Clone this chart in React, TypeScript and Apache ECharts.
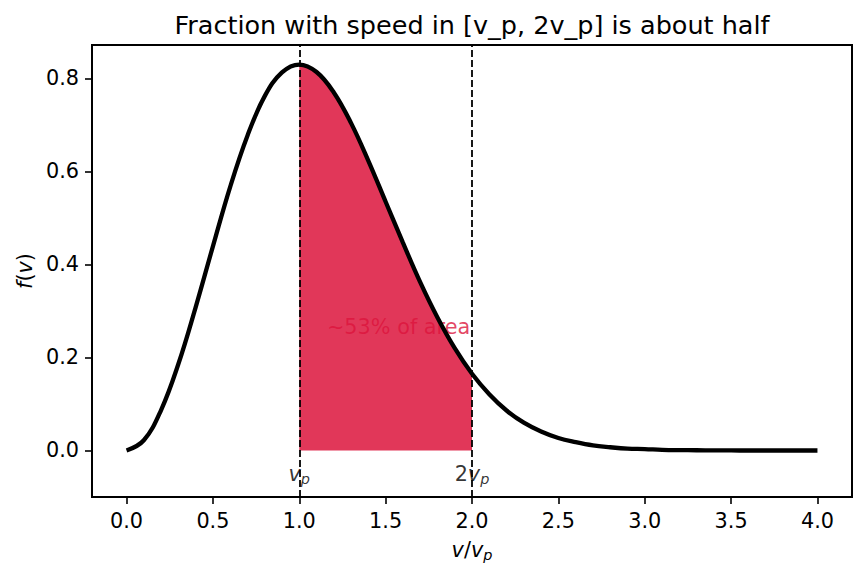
import React, { useEffect, useRef } from "react";
import * as echarts from "echarts";

const xs: number[] = [
  0.0, 0.1, 0.2, 0.3, 0.4, 0.5, 0.6, 0.7, 0.8, 0.9, 1.0, 1.1, 1.2, 1.3, 1.4,
  1.5, 1.6, 1.7, 1.8, 1.9, 2.0, 2.1, 2.2, 2.3, 2.4, 2.5, 2.6, 2.7, 2.8, 2.9,
  3.0, 3.1, 3.2, 3.3, 3.4, 3.5, 3.6, 3.7, 3.8, 3.9, 4.0,
];
const fv: number[] = [
  0.0, 0.022, 0.087, 0.186, 0.308, 0.439, 0.567, 0.677, 0.762, 0.813, 0.83,
  0.814, 0.77, 0.704, 0.623, 0.535, 0.447, 0.362, 0.286, 0.22, 0.165, 0.121,
  0.086, 0.06, 0.041, 0.027, 0.018, 0.011, 0.007, 0.004, 0.003, 0.0015,
  0.0008, 0.0005, 0.0002, 0.0001, 0.0, 0.0, 0.0, 0.0, 0.0,
];
const xTicks: number[] = [0, 0.5, 1, 1.5, 2, 2.5, 3, 3.5, 4];
const yTicks: number[] = [0, 0.2, 0.4, 0.6, 0.8];
const markerXs: number[] = [1, 2];
const shadeFrom = 1;
const shadeTo = 2;
const titleText = "Fraction with speed in [v_p, 2v_p] is about half";
const areaNote = "~53% of area";
const noteAt: number[] = [1.16, 0.265];
const markerLabelY = -0.05;

const FONT = "DejaVu Sans";
const CRIMSON = "#DC143C";
const FS = 20.8;

export default function App() {
  const ref = useRef<HTMLDivElement>(null);
  useEffect(() => {
    document.body.style.margin = "0";
    const chart = echarts.init(ref.current!, null, { renderer: "svg" });
    const curve = xs.map((x, i) => [x, fv[i]]);
    const shade = xs
      .map((x, i) => [x, fv[i]])
      .filter((p) => p[0] >= shadeFrom - 1e-9 && p[0] <= shadeTo + 1e-9);
    const rich = {
      i: { fontFamily: FONT, fontStyle: "italic", fontSize: FS, color: "#000" },
      n: { fontFamily: FONT, fontSize: FS, color: "#000" },
      s: {
        fontFamily: FONT,
        fontStyle: "italic",
        fontSize: 14.5,
        color: "#000",
        padding: [10, 0, 0, 0],
      },
    };
    chart.setOption({
      animation: false,
      backgroundColor: "#fff",
      grid: {
        left: 92,
        top: 45,
        width: 760,
        height: 452,
        show: true,
        borderColor: "#000",
        borderWidth: 2,
        backgroundColor: "transparent",
      },
      xAxis: {
        type: "value",
        min: -0.2,
        max: 4.2,
        splitLine: { show: false },
        axisLine: { show: true, onZero: false, lineStyle: { color: "#000", width: 2 } },
        axisTick: {
          show: true,
          customValues: xTicks,
          length: 7,
          lineStyle: { color: "#000", width: 1.6 },
        },
        axisLabel: {
          customValues: xTicks,
          formatter: (v: number) => v.toFixed(1),
          fontFamily: FONT,
          fontSize: FS,
          color: "#000",
          margin: 13,
        },
        name: "{i|v}{n|/}{i|v}{s|p}",
        nameLocation: "middle",
        nameGap: 40,
        nameTextStyle: { rich, color: "#000" },
      },
      yAxis: {
        type: "value",
        min: -0.1,
        max: 0.872,
        splitLine: { show: false },
        axisLine: { show: true, onZero: false, lineStyle: { color: "#000", width: 2 } },
        axisTick: {
          show: true,
          customValues: yTicks,
          length: 7,
          lineStyle: { color: "#000", width: 1.6 },
        },
        axisLabel: {
          customValues: yTicks,
          formatter: (v: number) => v.toFixed(1),
          fontFamily: FONT,
          fontSize: FS,
          color: "#000",
          margin: 13,
        },
        name: "{i|f}{n|(}{i|v}{n|)}",
        nameLocation: "middle",
        nameGap: 56,
        nameRotate: 90,
        nameTextStyle: { rich, color: "#000" },
      },
      graphic: [
        {
          type: "text",
          x: 472,
          y: 25,
          style: {
            text: titleText,
            textAlign: "center",
            textVerticalAlign: "middle",
            fontFamily: FONT,
            fontSize: 25.5,
            fill: "#000",
          },
        },
      ],
      series: [
        {
          type: "scatter",
          z: 1,
          symbolSize: 0,
          data: [noteAt],
          silent: true,
          label: {
            show: true,
            position: "right",
            distance: 0,
            formatter: areaNote,
            fontFamily: FONT,
            fontSize: FS,
            color: CRIMSON,
          },
        },
        {
          type: "line",
          z: 2,
          data: shade,
          smooth: 0.4,
          symbol: "none",
          lineStyle: { width: 0 },
          areaStyle: { color: "rgba(220,20,60,0.85)", origin: 0, opacity: 1 },
          silent: true,
        },
        {
          type: "line",
          z: 3,
          data: curve,
          smooth: 0.4,
          symbol: "none",
          lineStyle: { color: "#000", width: 4.3 },
          markLine: {
            silent: true,
            symbol: "none",
            label: { show: false },
            lineStyle: { color: "#000", width: 1.8, type: [7, 3] },
            data: markerXs.map((x) => ({ xAxis: x })),
          },
        },
        {
          type: "scatter",
          z: 4,
          symbolSize: 0,
          silent: true,
          itemStyle: { color: "#000" },
          data: markerXs.map((x) => [x, markerLabelY]),
          label: {
            show: true,
            position: "inside",
            color: "#000",
            textBorderWidth: 0,
            formatter: (p: any) =>
              p.dataIndex === 0 ? "{i|v}{s|p}" : "{n|2}{i|v}{s|p}",
            rich,
          },
        },
      ],
    });
    return () => chart.dispose();
  }, []);
  return (
    <div
      ref={ref}
      style={{ position: "absolute", left: 0, top: 0, width: 865, height: 580 }}
    />
  );
}
